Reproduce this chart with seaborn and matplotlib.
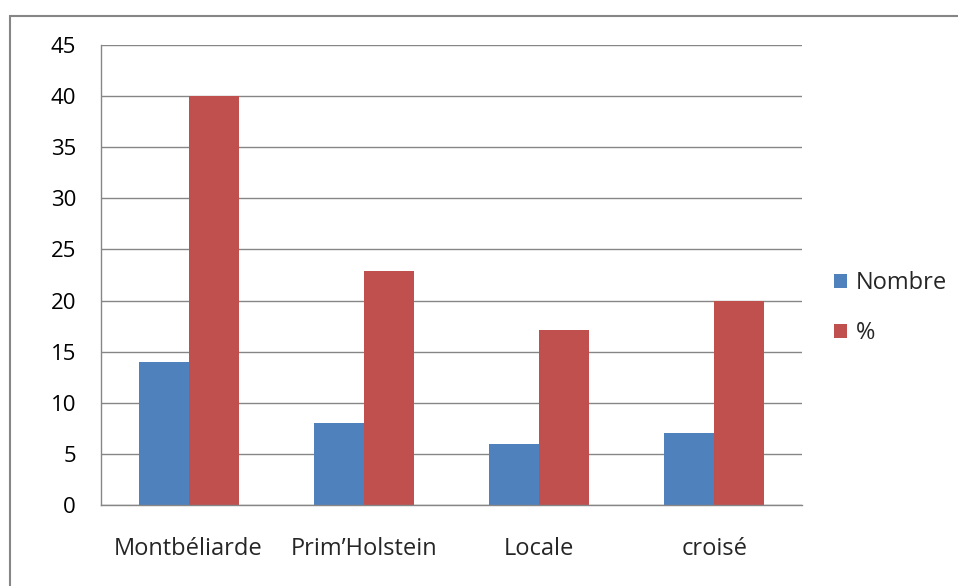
import numpy as np
import matplotlib
matplotlib.use("Agg")
import matplotlib.pyplot as plt
import pandas as pd
import seaborn as sns
from matplotlib.patches import Rectangle

races = ["Montbéliarde", "Prim\u2019Holstein", "Locale", "croisé"]
nombre = [14, 8, 6, 7]
pourcent = [40, 22.86, 17.14, 20]
series = ["Nombre", "%"]
couleurs = ["#4F81BD", "#C0504D"]

df = pd.DataFrame({
    "race": races * 2,
    "serie": [series[0]] * len(races) + [series[1]] * len(races),
    "valeur": nombre + pourcent,
})

sns.set_style("white")
plt.rcParams["font.family"] = ["Open Sans", "DejaVu Sans"]
grey = "#868686"
fs = 17

fig = plt.figure(figsize=(9.58, 5.86), dpi=100)
ax = fig.add_axes([101 / 958, 1 - 505 / 586, 701 / 958, 460 / 586])

sns.barplot(data=df, x="race", y="valeur", hue="serie", palette=couleurs,
            width=100 / 175, saturation=1, linewidth=0, ax=ax, legend=True)

ax.set_ylim(0, 45)
ax.set_xlim(-0.5, len(races) - 0.5)
ax.set_yticks(range(0, 46, 5))
ax.yaxis.grid(True, color=grey, linewidth=1)
ax.set_axisbelow(True)
ax.set_xlabel("")
ax.set_ylabel("")

for s in ["top", "right"]:
    ax.spines[s].set_visible(False)
for s in ["left", "bottom"]:
    ax.spines[s].set_color(grey)
    ax.spines[s].set_linewidth(1)

ax.tick_params(axis="y", length=6, width=1, labelsize=16, pad=12, colors=grey, labelcolor="black")
ax.set_xticks(np.arange(-0.5, len(races), 1.0), minor=True)
ax.tick_params(axis="x", which="major", length=0, labelsize=fs, pad=23)
ax.tick_params(axis="x", which="minor", length=6, color=grey, width=1)

handles, labels = ax.get_legend_handles_labels()
ax.legend(handles, labels, loc="center left", bbox_to_anchor=(813 / 958, 1 - 308 / 586),
          bbox_transform=fig.transFigure, frameon=False, fontsize=fs,
          handlelength=0.55, handleheight=0.55, handletextpad=0.35, labelspacing=1.1)

fig.patches.append(Rectangle((9.5 / 958, -0.2), 1.2, 0.2 + 1 - 15.5 / 586,
                             transform=fig.transFigure, fill=False,
                             edgecolor=grey, linewidth=1.5, clip_on=False))

fig.savefig("out.png", dpi=100)
